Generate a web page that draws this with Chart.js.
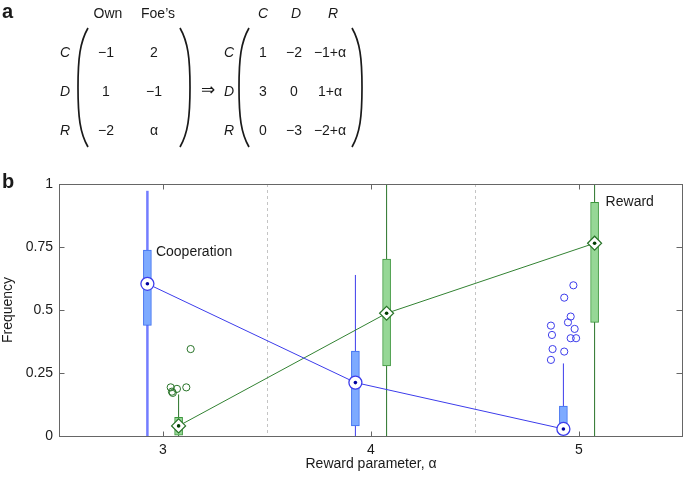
<!DOCTYPE html>
<html>
<head>
<meta charset="utf-8" />
<title>Cooperation and reward frequency</title>
<script src="https://cdn.jsdelivr.net/npm/chart.js@4.4.0/dist/chart.umd.min.js"></script>
<style>
  html, body { margin: 0; padding: 0; background: #fff; }
  #wrap { position: relative; width: 684px; height: 478px; font-family: "Liberation Sans", Arial, sans-serif; color: #1a1a1a; }
  #chart { position: absolute; left: 0; top: 0; }
  .t { position: absolute; font-size: 14px; line-height: 1; white-space: nowrap; transform: translate(-50%, -50%); }
  .i { font-style: italic; }
  .panel { position: absolute; font-size: 20px; font-weight: bold; line-height: 1; }
  #parens { position: absolute; left: 0; top: 0; }
</style>
</head>
<body>
<div id="wrap">
  <canvas id="chart" width="684" height="478"></canvas>

  <!-- panel a: payoff matrices -->
  <div class="panel" style="left:2px; top:1px;">a</div>
  <svg id="parens" width="684" height="170">
    <g fill="none" stroke="#1a1a1a" stroke-width="1.7">
      <path d="M88,28 C80,42 78,58 78,87.5 C78,117 80,133 88,147" />
      <path d="M180,28 C188,42 190,58 190,87.5 C190,117 188,133 180,147" />
      <path d="M249,28 C241,42 239,58 239,87.5 C239,117 241,133 249,147" />
      <path d="M352,28 C360,42 362,58 362,87.5 C362,117 360,133 352,147" />
    </g>
  </svg>
  <div class="t" style="left:108px; top:13px;">Own</div>
  <div class="t" style="left:158px; top:13px;">Foe’s</div>
  <div class="t i" style="left:65px; top:52px;">C</div>
  <div class="t i" style="left:65px; top:91px;">D</div>
  <div class="t i" style="left:65px; top:130px;">R</div>
  <div class="t" style="left:106px; top:52px;">−1</div>
  <div class="t" style="left:106px; top:91px;">1</div>
  <div class="t" style="left:106px; top:130px;">−2</div>
  <div class="t" style="left:154px; top:52px;">2</div>
  <div class="t" style="left:154px; top:91px;">−1</div>
  <div class="t" style="left:154px; top:130px;">α</div>
  <div class="t" style="left:208px; top:89px; font-family:'DejaVu Sans'; font-size:17px;">⇒</div>
  <div class="t i" style="left:263px; top:13px;">C</div>
  <div class="t i" style="left:296px; top:13px;">D</div>
  <div class="t i" style="left:333px; top:13px;">R</div>
  <div class="t i" style="left:229px; top:52px;">C</div>
  <div class="t i" style="left:229px; top:91px;">D</div>
  <div class="t i" style="left:229px; top:130px;">R</div>
  <div class="t" style="left:263px; top:52px;">1</div>
  <div class="t" style="left:263px; top:91px;">3</div>
  <div class="t" style="left:263px; top:130px;">0</div>
  <div class="t" style="left:294px; top:52px;">−2</div>
  <div class="t" style="left:294px; top:91px;">0</div>
  <div class="t" style="left:294px; top:130px;">−3</div>
  <div class="t" style="left:330px; top:52px;">−1+α</div>
  <div class="t" style="left:330px; top:91px;">1+α</div>
  <div class="t" style="left:330px; top:130px;">−2+α</div>

  <div class="panel" style="left:2px; top:171px;">b</div>
</div>

<script>
// ---- data ----
var alphas = [3, 4, 5];

var coopMin = [0, 0, 0];
var coopQ1  = [0.439, 0.040, 0.005];
var coopMed = [0.604, 0.212, 0.028];
var coopQ3  = [0.738, 0.337, 0.119];
var coopMax = [0.973, 0.639, 0.288];
var coopOutX = [4.973, 4.929, 4.960, 4.947, 4.865, 4.979, 4.870, 4.960, 4.986, 4.873, 4.929, 4.865];
var coopOutY = [0.598, 0.549, 0.474, 0.451, 0.438, 0.425, 0.401, 0.388, 0.388, 0.345, 0.335, 0.302];

var rewMin = [0, 0, 0];
var rewQ1  = [0.003, 0.278, 0.451];
var rewMed = [0.040, 0.487, 0.765];
var rewQ3  = [0.074, 0.702, 0.927];
var rewMax = [0.165, 1, 1];
var rewOutX = [3.037, 3.043, 3.047, 3.067, 3.112, 3.133];
var rewOutY = [0.193, 0.176, 0.171, 0.187, 0.193, 0.345];

var xTicks = [3, 4, 5];
var yTicks = [0, 0.25, 0.5, 0.75, 1];
var dividers = [3.5, 4.5];

var labelText = ['Cooperation', 'Reward'];
var labelX = [2.966, 5.128];
var labelY = [0.731, 0.929];

// ---- styling ----
var OFF = 0.075;          // side-by-side shift of the two box series
var BLUE = 'rgb(60,60,235)';
var BLUE_FILL = 'rgb(125,170,255)';
var BLUE_EDGE = 'rgb(60,110,240)';
var GREEN = 'rgb(40,115,40)';
var GREEN_FILL = 'rgb(150,215,150)';
var GREEN_EDGE = 'rgb(60,150,60)';
var TEXT = '#1a1a1a';
var FONT = { family: 'Liberation Sans', size: 14 };

function whiskers(xs, lo, hi, shift) {
    var pts = [];
    xs.forEach(function (a, i) {
        pts.push({ x: a + shift, y: lo[i] });
        pts.push({ x: a + shift, y: hi[i] });
        pts.push({ x: a + shift, y: null });
    });
    return pts;
}
function boxes(xs, q1, q3, shift) {
    return xs.map(function (a, i) { return { x: a + shift, y: [q1[i], q3[i]] }; });
}
function pts(xs, ys, shift) {
    return xs.map(function (a, i) { return { x: a + shift, y: ys[i] }; });
}

var framePlugin = {
    id: 'frame',
    beforeDatasetsDraw: function (chart) {
        var ctx = chart.ctx, a = chart.chartArea, x = chart.scales.x;
        ctx.save();
        ctx.strokeStyle = '#c4c4c4';
        ctx.lineWidth = 1;
        ctx.setLineDash([3, 3]);
        dividers.forEach(function (v) {
            var px = Math.round(x.getPixelForValue(v)) + 0.5;
            ctx.beginPath(); ctx.moveTo(px, a.top); ctx.lineTo(px, a.bottom); ctx.stroke();
        });
        ctx.restore();
    },
    afterDatasetsDraw: function (chart) {
        var ctx = chart.ctx, a = chart.chartArea, x = chart.scales.x, y = chart.scales.y;
        var L = Math.round(a.left) + 0.5, R = Math.round(a.right) - 0.5;
        var T = Math.round(a.top) + 0.5, B = Math.round(a.bottom) + 0.5;
        ctx.save();
        ctx.strokeStyle = '#666';
        ctx.lineWidth = 1;
        ctx.strokeRect(L, T, R - L, B - T);
        ctx.beginPath();
        xTicks.forEach(function (v) {
            var px = Math.round(x.getPixelForValue(v)) + 0.5;
            ctx.moveTo(px, B); ctx.lineTo(px, B - 5);
            ctx.moveTo(px, T); ctx.lineTo(px, T + 5);
        });
        yTicks.forEach(function (v) {
            var py = Math.round(y.getPixelForValue(v)) + 0.5;
            ctx.moveTo(L, py); ctx.lineTo(L + 5, py);
            ctx.moveTo(R, py); ctx.lineTo(R - 6, py);
        });
        ctx.stroke();
        // series labels
        ctx.fillStyle = TEXT;
        ctx.font = '14px "Liberation Sans"';
        ctx.textAlign = 'left';
        ctx.textBaseline = 'middle';
        labelText.forEach(function (s, i) {
            ctx.fillText(s, x.getPixelForValue(labelX[i]), y.getPixelForValue(labelY[i]));
        });
        ctx.restore();
    }
};

new Chart(document.getElementById('chart'), {
    type: 'scatter',
    data: {
        datasets: [
            // whiskers
            { type: 'line', data: whiskers(alphas, coopMin, coopMax, -OFF), showLine: true, spanGaps: false,
              pointRadius: 0, borderColor: BLUE, borderWidth: 1, order: 9,
              segment: {
                  borderWidth: function (c) { return c.p0.parsed.x < 3.5 ? 2.5 : 1; },
                  borderColor: function (c) { return c.p0.parsed.x < 3.5 ? 'rgb(115,125,255)' : BLUE; }
              } },
            { type: 'line', data: whiskers(alphas, rewMin, rewMax, OFF), showLine: true, spanGaps: false,
              pointRadius: 0, borderColor: GREEN, borderWidth: 1, order: 9 },
            // boxes
            { type: 'bar', data: boxes(alphas, coopQ1, coopQ3, -OFF), barThickness: 8, grouped: false,
              backgroundColor: BLUE_FILL, borderColor: BLUE_EDGE, borderWidth: 1, borderSkipped: false, order: 8 },
            { type: 'bar', data: boxes(alphas, rewQ1, rewQ3, OFF), barThickness: 8, grouped: false,
              backgroundColor: GREEN_FILL, borderColor: GREEN_EDGE, borderWidth: 1, borderSkipped: false, order: 8 },
            // median trend lines
            { type: 'line', data: pts(alphas, coopMed, -OFF), showLine: true, pointRadius: 0,
              borderColor: BLUE, borderWidth: 1, tension: 0, order: 6 },
            { type: 'line', data: pts(alphas, rewMed, OFF), showLine: true, pointRadius: 0,
              borderColor: 'rgb(50,130,50)', borderWidth: 1, tension: 0, order: 6 },
            // outliers
            { data: pts(coopOutX, coopOutY, 0), pointStyle: 'circle', pointRadius: 3.6,
              backgroundColor: 'rgba(0,0,0,0)', borderColor: BLUE, borderWidth: 1, clip: false, order: 5 },
            { data: pts(rewOutX, rewOutY, 0), pointStyle: 'circle', pointRadius: 3.6,
              backgroundColor: 'rgba(0,0,0,0)', borderColor: GREEN, borderWidth: 1, clip: false, order: 5 },
            // median markers
            { data: pts(alphas, coopMed, -OFF), pointStyle: 'circle', pointRadius: 6.5,
              backgroundColor: '#fff', borderColor: BLUE, borderWidth: 1.3, clip: false, order: 3 },
            { data: pts(alphas, rewMed, OFF), pointStyle: 'rectRot', pointRadius: 7,
              backgroundColor: '#fff', borderColor: GREEN, borderWidth: 1.2, clip: false, order: 3 },
            { data: pts(alphas, coopMed, -OFF), pointRadius: 1.8, backgroundColor: 'rgb(0,0,160)',
              borderWidth: 0, clip: false, order: 1 },
            { data: pts(alphas, rewMed, OFF), pointRadius: 1.8, backgroundColor: 'rgb(0,60,0)',
              borderWidth: 0, clip: false, order: 1 }
        ]
    },
    options: {
        responsive: false,
        animation: false,
        devicePixelRatio: 1,
        events: [],
        layout: { autoPadding: false, padding: { top: 184, right: 1, left: 0, bottom: 0 } },
        plugins: { legend: { display: false }, tooltip: { enabled: false } },
        scales: {
            x: {
                type: 'linear', min: 2.5, max: 5.5, offset: false,
                grid: { display: false, drawTicks: false }, border: { display: false },
                afterBuildTicks: function (s) { s.ticks = xTicks.map(function (v) { return { value: v }; }); },
                afterFit: function (s) { s.height = 42; s.paddingLeft = 0; s.paddingRight = 0; },
                ticks: { font: FONT, color: TEXT, padding: 6, maxRotation: 0,
                         callback: function (v) { return String(v); } },
                title: { display: true, text: 'Reward parameter, α', font: FONT, color: TEXT,
                         padding: { top: 4, bottom: 5 } }
            },
            y: {
                type: 'linear', min: 0, max: 1,
                grid: { display: false, drawTicks: false }, border: { display: false },
                afterBuildTicks: function (s) { s.ticks = yTicks.map(function (v) { return { value: v }; }); },
                afterFit: function (s) { s.width = 59; s.paddingTop = 0; s.paddingBottom = 0; },
                ticks: { font: FONT, color: TEXT, padding: 6,
                         callback: function (v) { return String(v); } },
                title: { display: true, text: 'Frequency', font: FONT, color: TEXT, padding: 0 }
            }
        }
    },
    plugins: [framePlugin]
});
</script>
</body>
</html>
